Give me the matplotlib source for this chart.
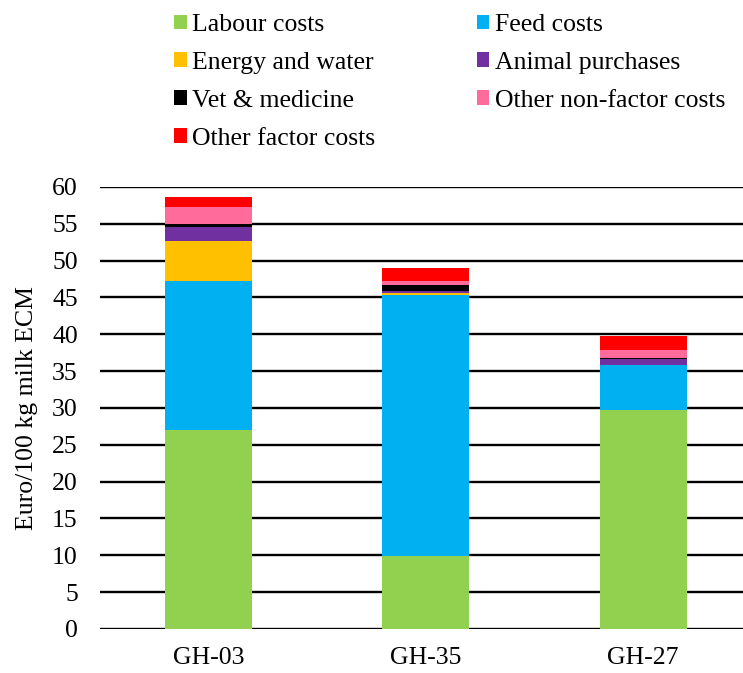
import matplotlib.pyplot as plt
import numpy as np

plt.rcParams.update({
    'font.family': 'serif',
    'font.serif': ['Liberation Serif', 'DejaVu Serif'],
})

farms = ['GH-03', 'GH-35', 'GH-27']
labour = [27.0, 9.9, 29.7]
feed = [20.2, 35.5, 6.1]
energy = [5.5, 0.2, 0.05]
animal = [1.9, 0.3, 0.8]
vet = [0.4, 0.8, 0.2]
other_nonfactor = [2.3, 0.5, 1.0]
other_factor = [1.4, 1.8, 1.9]

series = [
    ('Labour costs', labour, '#92D050'),
    ('Feed costs', feed, '#00B0F0'),
    ('Energy and water', energy, '#FFC000'),
    ('Animal purchases', animal, '#7030A0'),
    ('Vet & medicine', vet, '#000000'),
    ('Other non-factor costs', other_nonfactor, '#FF6C9C'),
    ('Other factor costs', other_factor, '#FF0000'),
]

FS = 18.5

fig = plt.figure(figsize=(7.43, 6.73), dpi=100, facecolor='white')
ax = fig.add_axes([0.1346, 0.0654, 0.8654, 0.6568])

x = np.arange(len(farms))
bottom = np.zeros(len(farms))
handles = {}
for name, vals, col in series:
    b = ax.bar(x, vals, width=0.4, bottom=bottom, color=col, label=name,
               zorder=3, linewidth=0)
    handles[name] = b
    bottom += np.array(vals)

ax.set_ylim(0, 60)
ax.set_xlim(-0.5, 2.46)
ax.set_yticks(range(0, 61, 5))
ax.set_xticks(x)
ax.set_xticklabels(farms)
ax.grid(axis='y', color='black', linewidth=1.7, zorder=0)
ax.set_axisbelow(True)
for s in ax.spines.values():
    s.set_visible(False)
ax.tick_params(axis='both', length=0, labelsize=FS)
ax.tick_params(axis='y', pad=16)
ax.tick_params(axis='x', pad=13)
ax.set_ylabel('Euro/100 kg milk ECM', fontsize=FS, labelpad=10)

# legend fills column-wise, so reorder to match the two-column layout
order = ['Labour costs', 'Energy and water', 'Vet & medicine', 'Other factor costs',
         'Feed costs', 'Animal purchases', 'Other non-factor costs']
fig.legend([handles[n] for n in order], order, ncol=2, frameon=False,
           loc='upper left', bbox_to_anchor=(0.21, 1.006), fontsize=FS,
           handlelength=0.5, handleheight=0.5, handletextpad=0.2,
           columnspacing=3.95, labelspacing=0.62, borderpad=0.2)

plt.savefig('out.png', dpi=100, facecolor='white')
